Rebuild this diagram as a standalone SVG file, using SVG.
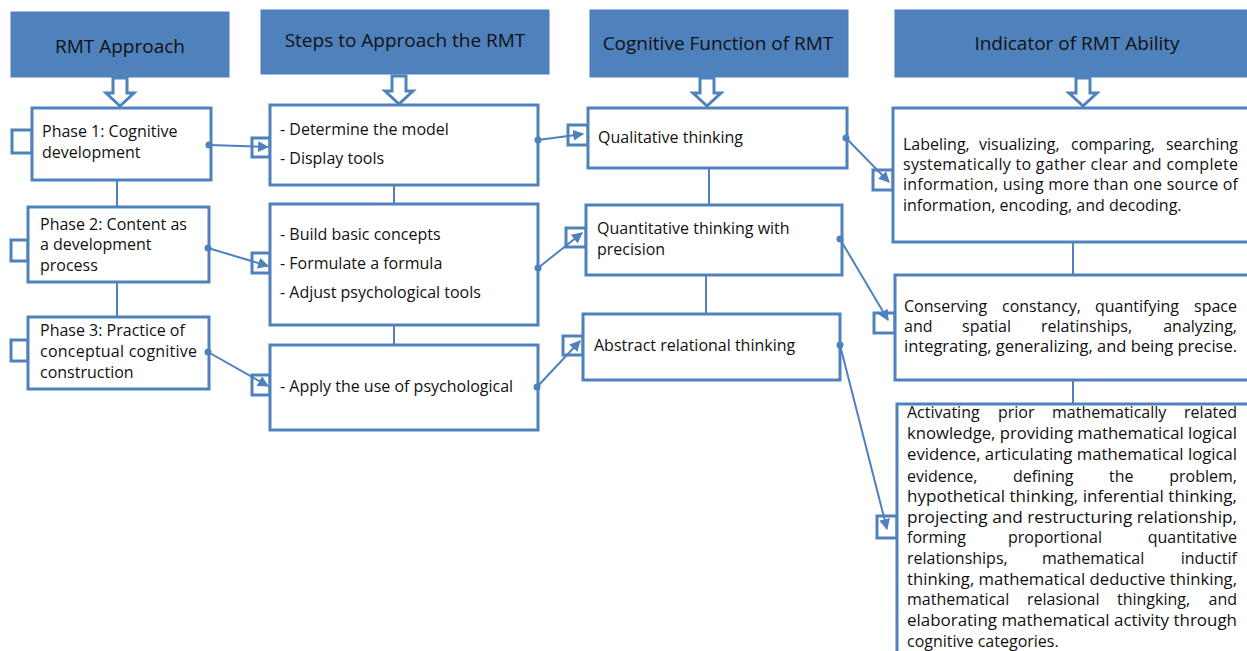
<svg xmlns="http://www.w3.org/2000/svg" width="1247" height="651" viewBox="0 0 1247 651">
  <defs>
    <style>
      .hdr { fill: #4F81BD; stroke: #4A7EBB; stroke-width: 1; }
      .htxt { font-family: "Open Sans", "Liberation Sans", sans-serif; font-size: 19px; fill: #111; text-anchor: middle; }
      .box { fill: #fff; stroke: #4F81BD; stroke-width: 3; }
      .tab { fill: #fff; stroke: #4F81BD; stroke-width: 3; }
      .txt { font-family: "Open Sans", "Liberation Sans", sans-serif; font-size: 16px; fill: #111; }
      .end { text-anchor: end; }
      .link { fill: none; stroke: #4F81BD; stroke-width: 2; }
      .bar { fill: none; stroke: #4F81BD; stroke-width: 2; }
      .dot { fill: #4F81BD; }
      .blk { fill: #fff; stroke: #4F81BD; stroke-width: 3; stroke-linejoin: miter; }
    </style>
    <marker id="tip" viewBox="0 0 10 10" refX="9" refY="5" markerWidth="5.5" markerHeight="5.5" orient="auto" markerUnits="strokeWidth">
      <path d="M0,0 L10,5 L0,10 z" fill="#4F81BD"/>
    </marker>
  </defs>

  <rect width="1247" height="651" fill="#fff"/>

  <!-- column headers -->
  <g id="hdr-approach">
    <rect class="hdr" x="11" y="12" width="218" height="65"/>
    <text class="htxt" x="120" y="53">RMT Approach</text>
  </g>
  <g id="hdr-steps">
    <rect class="hdr" x="261" y="10" width="288" height="64"/>
    <text class="htxt" x="405" y="47">Steps to Approach the RMT</text>
  </g>
  <g id="hdr-cognitive">
    <rect class="hdr" x="590" y="10" width="258" height="67"/>
    <text class="htxt" x="718" y="50">Cognitive Function of RMT</text>
  </g>
  <g id="hdr-indicator">
    <rect class="hdr" x="895" y="10" width="360" height="67"/>
    <text class="htxt" x="1077" y="50">Indicator of RMT Ability</text>
  </g>

  <!-- column 1: phases -->
  <g id="phase1">
    <rect class="tab" x="12" y="130" width="20" height="23"/>
    <rect class="box" x="32" y="108" width="179" height="72"/>
    <text class="txt" x="42" y="137">Phase 1: Cognitive</text>
    <text class="txt" x="42" y="158">development</text>
  </g>
  <g id="phase2">
    <rect class="tab" x="11" y="240" width="17" height="21"/>
    <rect class="box" x="28" y="207" width="181" height="75"/>
    <text class="txt" x="40" y="230">Phase 2: Content as</text>
    <text class="txt" x="40" y="250">a development</text>
    <text class="txt" x="40" y="271">process</text>
  </g>
  <g id="phase3">
    <rect class="tab" x="11" y="340" width="17" height="21"/>
    <rect class="box" x="28" y="317" width="181" height="72"/>
    <text class="txt" x="40" y="336">Phase 3: Practice of</text>
    <text class="txt" x="40" y="357" textLength="157" lengthAdjust="spacing">conceptual cognitive</text>
    <text class="txt" x="40" y="378">construction</text>
  </g>

  <!-- column 2: steps -->
  <g id="steps1">
    <rect class="tab" x="252" y="138" width="18" height="19"/>
    <rect class="box" x="270" y="105" width="268" height="80"/>
    <text class="txt" x="280" y="135">- Determine the model</text>
    <text class="txt" x="280" y="164">- Display tools</text>
  </g>
  <g id="steps2">
    <rect class="tab" x="252" y="253" width="18" height="20"/>
    <rect class="box" x="270" y="204" width="268" height="121"/>
    <text class="txt" x="280" y="240">- Build basic concepts</text>
    <text class="txt" x="280" y="269">- Formulate a formula</text>
    <text class="txt" x="280" y="298">- Adjust psychological tools</text>
  </g>
  <g id="steps3">
    <rect class="tab" x="252" y="375" width="18" height="20"/>
    <rect class="box" x="270" y="345" width="268" height="85"/>
    <text class="txt" x="280" y="392">- Apply the use of psychological</text>
  </g>

  <!-- column 3: cognitive functions -->
  <g id="cog1">
    <rect class="tab" x="568" y="125" width="20" height="20"/>
    <rect class="box" x="588" y="108" width="259" height="60"/>
    <text class="txt" x="598" y="143">Qualitative thinking</text>
  </g>
  <g id="cog2">
    <rect class="tab" x="566" y="228" width="20" height="19"/>
    <rect class="box" x="586" y="205" width="256" height="70"/>
    <text class="txt" x="597" y="234">Quantitative thinking with</text>
    <text class="txt" x="597" y="255">precision</text>
  </g>
  <g id="cog3">
    <rect class="tab" x="563" y="336" width="20" height="19"/>
    <rect class="box" x="583" y="314" width="257" height="66"/>
    <text class="txt" x="594" y="351">Abstract relational thinking</text>
  </g>

  <!-- column 4: indicators -->
  <g id="ind1">
    <rect class="tab" x="873" y="170" width="20" height="20"/>
    <rect class="box" x="893" y="108" width="360" height="134"/>
    <text class="txt" y="150"><tspan x="903">Labeling,</tspan><tspan x="979">visualizing,</tspan><tspan x="1071">comparing,</tspan><tspan class="end" x="1238">searching</tspan></text>
    <text class="txt" x="903" y="170" textLength="335" lengthAdjust="spacing">systematically to gather clear and complete</text>
    <text class="txt" x="903" y="190" textLength="335" lengthAdjust="spacing">information, using more than one source of</text>
    <text class="txt" x="903" y="211">information, encoding, and decoding.</text>
  </g>
  <g id="ind2">
    <rect class="tab" x="874" y="313" width="21" height="20"/>
    <rect class="box" x="895" y="275" width="358" height="105"/>
    <text class="txt" y="312"><tspan x="904">Conserving</tspan><tspan x="1002">constancy,</tspan><tspan x="1095">quantifying</tspan><tspan class="end" x="1237">space</tspan></text>
    <text class="txt" y="332"><tspan x="904">and</tspan><tspan x="962">spatial</tspan><tspan x="1041">relatinships,</tspan><tspan class="end" x="1237">analyzing,</tspan></text>
    <text class="txt" x="904" y="352" textLength="333" lengthAdjust="spacingAndGlyphs">integrating, generalizing, and being precise.</text>
  </g>
  <g id="ind3">
    <rect class="tab" x="877" y="516" width="20" height="22"/>
    <rect class="box" x="897" y="404" width="356" height="260"/>
    <text class="txt" y="418"><tspan x="907">Activating</tspan><tspan x="998">prior</tspan><tspan x="1052">mathematically</tspan><tspan class="end" x="1237">related</tspan></text>
    <text class="txt" x="907" y="439" textLength="330" lengthAdjust="spacingAndGlyphs">knowledge, providing mathematical logical</text>
    <text class="txt" x="907" y="460" textLength="330" lengthAdjust="spacingAndGlyphs">evidence, articulating mathematical logical</text>
    <text class="txt" y="482"><tspan x="907">evidence,</tspan><tspan x="1013">defining</tspan><tspan x="1109">the</tspan><tspan class="end" x="1237">problem,</tspan></text>
    <text class="txt" x="907" y="502" textLength="330" lengthAdjust="spacingAndGlyphs">hypothetical thinking, inferential thinking,</text>
    <text class="txt" x="907" y="523" textLength="330" lengthAdjust="spacingAndGlyphs">projecting and restructuring relationship,</text>
    <text class="txt" y="543"><tspan x="907">forming</tspan><tspan x="1008">proportional</tspan><tspan class="end" x="1237">quantitative</tspan></text>
    <text class="txt" y="564"><tspan x="907">relationships,</tspan><tspan x="1042">mathematical</tspan><tspan class="end" x="1237">inductif</tspan></text>
    <text class="txt" x="907" y="585" textLength="330" lengthAdjust="spacingAndGlyphs">thinking, mathematical deductive thinking,</text>
    <text class="txt" y="605"><tspan x="907">mathematical</tspan><tspan x="1027">relasional</tspan><tspan x="1117">thingking,</tspan><tspan class="end" x="1237">and</tspan></text>
    <text class="txt" x="907" y="626" textLength="330" lengthAdjust="spacingAndGlyphs">elaborating mathematical activity through</text>
    <text class="txt" x="907" y="647">cognitive categories.</text>
  </g>

  <!-- connectors -->
  <g id="connectors">
    <!-- hollow block arrows under each header -->
    <path class="blk" d="M113,78 V93 H106 L120,106 L134,93 H127 V78 Z"/>
    <path class="blk" d="M392,76 V91 H385 L399,104 L413,91 H406 V76 Z"/>
    <path class="blk" d="M700,78 V93 H693 L707,106 L721,93 H714 V78 Z"/>
    <path class="blk" d="M1076,78 V93 H1069 L1083,106 L1097,93 H1090 V78 Z"/>

    <!-- vertical ties within each column -->
    <line class="bar" x1="117" y1="180" x2="117" y2="207"/>
    <line class="bar" x1="117" y1="282" x2="117" y2="317"/>
    <line class="bar" x1="394" y1="185" x2="394" y2="204"/>
    <line class="bar" x1="394" y1="325" x2="394" y2="345"/>
    <line class="bar" x1="709" y1="168" x2="709" y2="205"/>
    <line class="bar" x1="706" y1="275" x2="706" y2="314"/>
    <line class="bar" x1="1073" y1="242" x2="1073" y2="275"/>
    <line class="bar" x1="1073" y1="380" x2="1073" y2="404"/>

    <!-- phase to step links -->
    <line class="link" x1="209" y1="145" x2="268" y2="147" marker-end="url(#tip)"/>
    <circle class="dot" cx="209" cy="145" r="3.5"/>
    <line class="link" x1="208" y1="248" x2="268" y2="266" marker-end="url(#tip)"/>
    <circle class="dot" cx="208" cy="248" r="3.5"/>
    <line class="link" x1="208" y1="352" x2="268" y2="386" marker-end="url(#tip)"/>
    <circle class="dot" cx="208" cy="352" r="3.5"/>

    <!-- step to cognitive function links -->
    <line class="link" x1="538" y1="140" x2="583" y2="134" marker-end="url(#tip)"/>
    <circle class="dot" cx="538" cy="140" r="3.5"/>
    <line class="link" x1="538" y1="268" x2="582" y2="233" marker-end="url(#tip)"/>
    <circle class="dot" cx="538" cy="268" r="3.5"/>
    <line class="link" x1="537" y1="387" x2="580" y2="341" marker-end="url(#tip)"/>
    <circle class="dot" cx="537" cy="387" r="3.5"/>

    <!-- cognitive function to indicator links -->
    <line class="link" x1="846" y1="138" x2="889" y2="182" marker-end="url(#tip)"/>
    <circle class="dot" cx="846" cy="138" r="3.5"/>
    <line class="link" x1="840" y1="239" x2="888" y2="320" marker-end="url(#tip)"/>
    <circle class="dot" cx="840" cy="239" r="3.5"/>
    <line class="link" x1="840" y1="345" x2="887" y2="529" marker-end="url(#tip)"/>
    <circle class="dot" cx="840" cy="345" r="3.5"/>
  </g>
</svg>
